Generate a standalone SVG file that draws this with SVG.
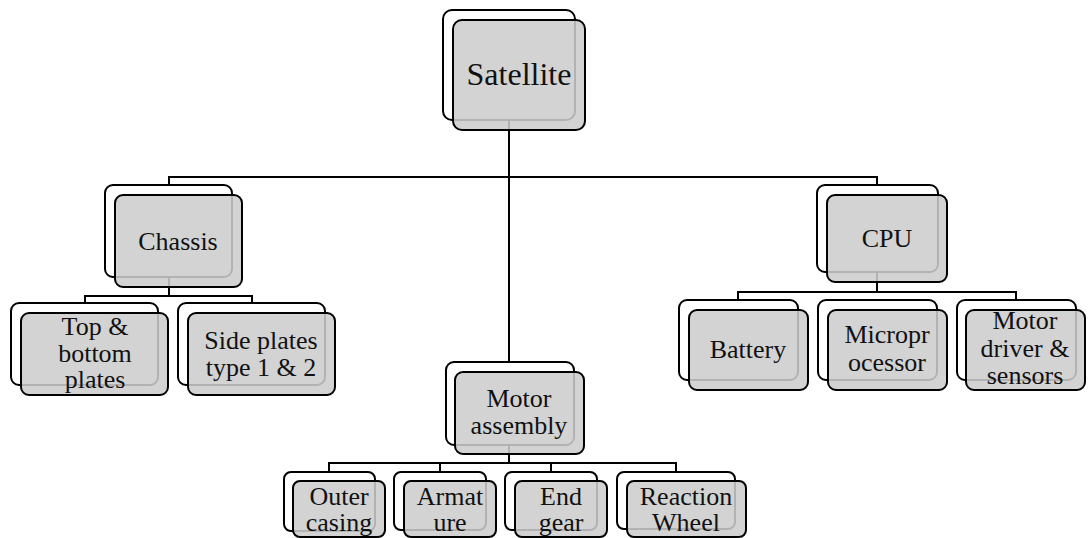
<svg xmlns="http://www.w3.org/2000/svg" width="1088" height="538" viewBox="0 0 1088 538">
  <style>
    .back { fill: #ffffff; stroke: #000000; stroke-width: 2; }
    .front { fill: #cccccc; fill-opacity: 0.87; stroke: #000000; stroke-width: 2; }
    .lbl { font-family: "Liberation Serif", "Times New Roman", serif; font-size: 26px; fill: #111111; text-anchor: middle; }
    .big { font-size: 32px; }
    .conn { fill: none; stroke: #000000; stroke-width: 2; }
  </style>
  <rect width="1088" height="538" fill="#ffffff"/>

  <!-- tree connectors -->
  <g id="connectors">
    <path class="conn" d="M509 120 V362"/>
    <path class="conn" d="M169 185 V177 H877 V185"/>
    <path class="conn" d="M169 277 V296 M85 303 V296 H252 V303"/>
    <path class="conn" d="M877 272 V292 M738 300 V292 H1016 V300"/>
    <path class="conn" d="M509 445 V463 M329 472 V463 H676 V472 M440 463 V472 M551 463 V472"/>
  </g>

  <g id="satellite">
    <rect class="back" x="443" y="10" width="132" height="110" rx="9"/>
    <rect class="front" x="453" y="20" width="132" height="110" rx="9"/>
    <text class="lbl big" x="519" y="85">Satellite</text>
  </g>

  <g id="chassis">
    <rect class="back" x="105" y="185" width="127" height="92" rx="8"/>
    <rect class="front" x="115" y="195" width="127" height="92" rx="8"/>
    <text class="lbl" x="178" y="250">Chassis</text>
  </g>

  <g id="top-bottom-plates">
    <rect class="back" x="11" y="303" width="147" height="82" rx="8"/>
    <rect class="front" x="21" y="313" width="147" height="82" rx="8"/>
    <text class="lbl" x="95" y="335">Top &amp;</text>
    <text class="lbl" x="95" y="362">bottom</text>
    <text class="lbl" x="95" y="388">plates</text>
  </g>

  <g id="side-plates">
    <rect class="back" x="178" y="303" width="147" height="82" rx="8"/>
    <rect class="front" x="188" y="313" width="147" height="82" rx="8"/>
    <text class="lbl" x="261" y="349">Side plates</text>
    <text class="lbl" x="261" y="376">type 1 &amp; 2</text>
  </g>

  <g id="cpu">
    <rect class="back" x="817" y="185" width="121" height="87" rx="8"/>
    <rect class="front" x="827" y="195" width="120" height="87" rx="8"/>
    <text class="lbl" x="887" y="247">CPU</text>
  </g>

  <g id="battery">
    <rect class="back" x="679" y="300" width="119" height="80" rx="8"/>
    <rect class="front" x="689" y="310" width="119" height="80" rx="8"/>
    <text class="lbl" x="748" y="358">Battery</text>
  </g>

  <g id="microprocessor">
    <rect class="back" x="818" y="300" width="119" height="80" rx="8"/>
    <rect class="front" x="828" y="310" width="119" height="80" rx="8"/>
    <text class="lbl" x="887" y="343">Micropr</text>
    <text class="lbl" x="887" y="371">ocessor</text>
  </g>

  <g id="motor-driver">
    <rect class="back" x="957" y="300" width="119" height="80" rx="8"/>
    <rect class="front" x="966" y="310" width="119" height="80" rx="8"/>
    <text class="lbl" x="1025" y="329">Motor</text>
    <text class="lbl" x="1025" y="357">driver &amp;</text>
    <text class="lbl" x="1025" y="384">sensors</text>
  </g>

  <g id="motor-assembly">
    <rect class="back" x="446" y="362" width="128" height="83" rx="8"/>
    <rect class="front" x="455" y="372" width="129" height="82" rx="8"/>
    <text class="lbl" x="519" y="407">Motor</text>
    <text class="lbl" x="519" y="434">assembly</text>
  </g>

  <g id="outer-casing">
    <rect class="back" x="284" y="472" width="91" height="59" rx="7"/>
    <rect class="front" x="293" y="481" width="92" height="56" rx="7"/>
    <text class="lbl" x="339" y="505">Outer</text>
    <text class="lbl" x="339" y="531">casing</text>
  </g>

  <g id="armature">
    <rect class="back" x="394" y="472" width="92" height="58" rx="7"/>
    <rect class="front" x="404" y="481" width="92" height="56" rx="7"/>
    <text class="lbl" x="450" y="505">Armat</text>
    <text class="lbl" x="450" y="531">ure</text>
  </g>

  <g id="end-gear">
    <rect class="back" x="505" y="472" width="92" height="58" rx="7"/>
    <rect class="front" x="515" y="481" width="92" height="56" rx="7"/>
    <text class="lbl" x="561" y="505">End</text>
    <text class="lbl" x="561" y="531">gear</text>
  </g>

  <g id="reaction-wheel">
    <rect class="back" x="617" y="472" width="118" height="57" rx="7"/>
    <rect class="front" x="627" y="481" width="119" height="56" rx="7"/>
    <text class="lbl" x="686" y="505">Reaction</text>
    <text class="lbl" x="686" y="531">Wheel</text>
  </g>
</svg>
